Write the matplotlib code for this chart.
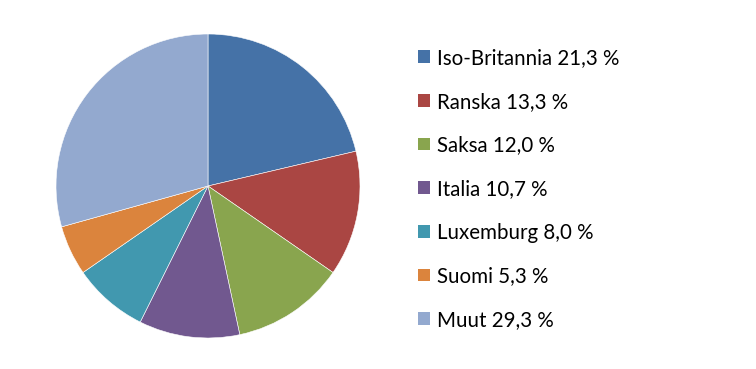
import matplotlib
matplotlib.use("Agg")
import matplotlib.pyplot as plt
from matplotlib.patches import Patch

categories = ["Iso-Britannia", "Ranska", "Saksa", "Italia", "Luxemburg", "Suomi", "Muut"]
values = [21.3, 13.3, 12.0, 10.7, 8.0, 5.3, 29.3]
colors = ["#4572A7", "#AA4643", "#89A54E", "#71588F", "#4198AF", "#DB843D", "#93A9CF"]

plt.rcParams['font.family'] = ['Lato', 'DejaVu Sans']

W, H = 756, 369
fig = plt.figure(figsize=(W / 100, H / 100), dpi=100)
cx, cy, r = 208, 186, 152
ax = fig.add_axes([(cx - r) / W, (H - cy - r) / H, 2 * r / W, 2 * r / H])
ax.pie(values, colors=colors, startangle=90, counterclock=False, radius=1,
       wedgeprops=dict(edgecolor="white", linewidth=0.4))
ax.set_xlim(-1, 1)
ax.set_ylim(-1, 1)
ax.set_aspect("equal")
ax.axis("off")

labels = [f"{c} {v:.1f} %".replace(".", ",") for c, v in zip(categories, values)]
handles = [Patch(facecolor=c, edgecolor="none") for c in colors]
fig.legend(handles, labels, loc="upper left", bbox_to_anchor=(418 / W, 1 - 48 / H),
           frameon=False, fontsize=14.8, handlelength=0.58, handleheight=0.58,
           handletextpad=0.34, labelspacing=1.15, borderaxespad=0, borderpad=0)

fig.savefig("out.png", dpi=100)
